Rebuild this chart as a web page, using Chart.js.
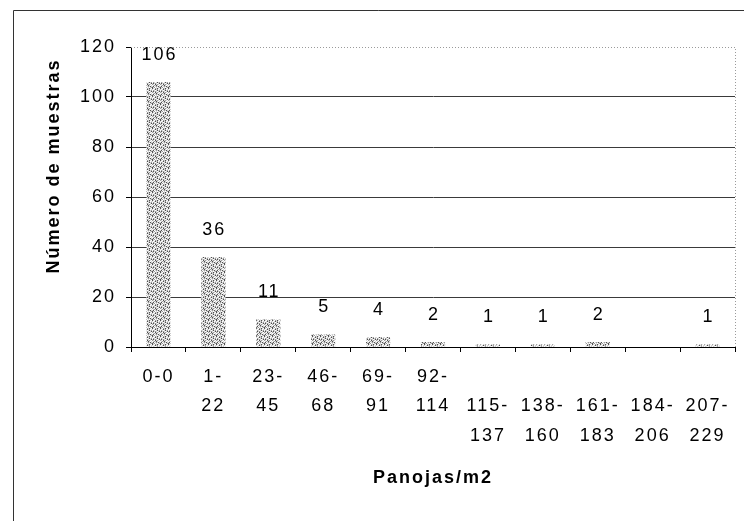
<!DOCTYPE html>
<html>
<head>
<meta charset="utf-8">
<script src="https://cdn.jsdelivr.net/npm/chart.js@4.4.1/dist/chart.umd.min.js"></script>
<style>
    html, body { margin: 0; padding: 0; background: #fff; }
    #wrap { width: 744px; height: 521px; }
</style>
</head>
<body>
<div id="wrap"><canvas id="panojasChart"></canvas></div>
<script>
const categories = ['0-0', '1-22', '23-45', '46-68', '69-91', '92-114', '115-137', '138-160', '161-183', '184-206', '207-229'];
const tickLabels = [
    ['0-0'], ['1-', '22'], ['23-', '45'], ['46-', '68'], ['69-', '91'], ['92-', '114'],
    ['', '115-', '137'], ['', '138-', '160'], ['', '161-', '183'], ['', '184-', '206'], ['', '207-', '229']
];
const muestras = [106, 36, 11, 5, 4, 2, 1, 1, 2, null, 1];
const yTicks = [0, 20, 40, 60, 80, 100, 120];

const FONT = "'Liberation Sans', Arial, sans-serif";
const SPACING = '2px';

// grey stipple like the old spreadsheet fill
const makeStipple = () => {
    const rows = [
        'd.lg.d.l',
        '.l.d.gl.',
        'lg.l.d.g',
        '.d.g.l.d',
        'g.ld.g.l',
        'l.g.d.l.',
        '.dl.g.d.',
        'd.gl.l.g'
    ];
    const c = document.createElement('canvas');
    c.width = 8;
    c.height = 8;
    const g = c.getContext('2d');
    g.fillStyle = '#d6d6d6';
    g.fillRect(0, 0, 8, 8);
    const shades = { d: '#505050', g: '#9c9c9c', l: '#ffffff' };
    rows.forEach((row, y) => {
        [...row].forEach((ch, x) => {
            if (shades[ch]) { g.fillStyle = shades[ch]; g.fillRect(x, y, 1, 1); }
        });
    });
    return g.createPattern(c, 'repeat');
};

const framePlugin = {
    id: 'frame',
    beforeDraw: (chart) => {
        const ctx = chart.ctx;
        ctx.letterSpacing = SPACING;
        ctx.save();
        ctx.strokeStyle = '#333';
        ctx.lineWidth = 1;
        ctx.beginPath();
        ctx.moveTo(13.5, 521);
        ctx.lineTo(13.5, 10.5);
        ctx.lineTo(744, 10.5);
        ctx.stroke();
        ctx.restore();
    },
    beforeDatasetsDraw: (chart) => {
        const {ctx, chartArea: a} = chart;
        ctx.save();
        ctx.strokeStyle = '#9a9a9a';
        ctx.lineWidth = 1;
        ctx.setLineDash([1, 2]);
        ctx.beginPath();
        ctx.moveTo(a.left, Math.round(a.top) + 0.5);
        ctx.lineTo(Math.round(a.right) + 0.5, Math.round(a.top) + 0.5);
        ctx.lineTo(Math.round(a.right) + 0.5, a.bottom);
        ctx.stroke();
        ctx.restore();

        // y axis title, sits above the plot centre like in the original
        ctx.save();
        ctx.letterSpacing = SPACING;
        ctx.font = `bold 18px ${FONT}`;
        ctx.fillStyle = '#000';
        ctx.textAlign = 'center';
        ctx.textBaseline = 'middle';
        ctx.translate(54, 166);
        ctx.rotate(-Math.PI / 2);
        ctx.fillText('Número de muestras', 0, 0);
        ctx.restore();
    },
    afterDatasetsDraw: (chart) => {
        const ctx = chart.ctx;
        const meta = chart.getDatasetMeta(0);
        ctx.save();
        ctx.letterSpacing = SPACING;
        ctx.font = `18px ${FONT}`;
        ctx.fillStyle = '#000';
        ctx.textAlign = 'center';
        ctx.textBaseline = 'middle';
        meta.data.forEach((bar, i) => {
            if (muestras[i] === null) return;
            ctx.fillText(String(muestras[i]), bar.x + 1, bar.y - 27);
        });
        ctx.restore();
    }
};

const ctx = document.getElementById('panojasChart').getContext('2d');

new Chart(ctx, {
    type: 'bar',
    data: {
        labels: tickLabels,
        datasets: [{
            label: 'Número de muestras',
            data: muestras,
            backgroundColor: makeStipple(),
            borderWidth: 0,
            barPercentage: 0.44,
            categoryPercentage: 1
        }]
    },
    options: {
        responsive: true,
        maintainAspectRatio: false,
        animation: false,
        layout: {
            padding: { left: 44, right: 9, top: 47, bottom: 32 }
        },
        plugins: {
            legend: { display: false },
            tooltip: { enabled: false }
        },
        scales: {
            x: {
                afterFit: (scale) => { scale.height = 142; },
                grid: {
                    drawOnChartArea: false,
                    color: '#000',
                    tickLength: 5
                },
                border: { color: '#000', width: 1 },
                ticks: {
                    color: '#000',
                    padding: 10,
                    maxRotation: 0,
                    autoSkip: false,
                    font: { family: FONT, size: 18, lineHeight: 1.64 }
                },
                title: {
                    display: true,
                    text: 'Panojas/m2',
                    color: '#000',
                    padding: 0,
                    font: { family: FONT, size: 18, weight: 'bold' }
                }
            },
            y: {
                min: 0,
                max: 120,
                afterFit: (scale) => { scale.width = 87; },
                afterBuildTicks: (scale) => {
                    scale.ticks = yTicks.map(v => ({ value: v }));
                },
                grid: {
                    color: (c) => (c.tick && c.tick.value === 120) ? 'rgba(0,0,0,0)' : '#3a3a3a',
                    tickColor: '#000',
                    tickLength: 5
                },
                border: { color: '#000', width: 1 },
                ticks: {
                    color: '#000',
                    padding: 10,
                    font: { family: FONT, size: 18 }
                }
            }
        }
    },
    plugins: [framePlugin]
});
</script>
</body>
</html>
